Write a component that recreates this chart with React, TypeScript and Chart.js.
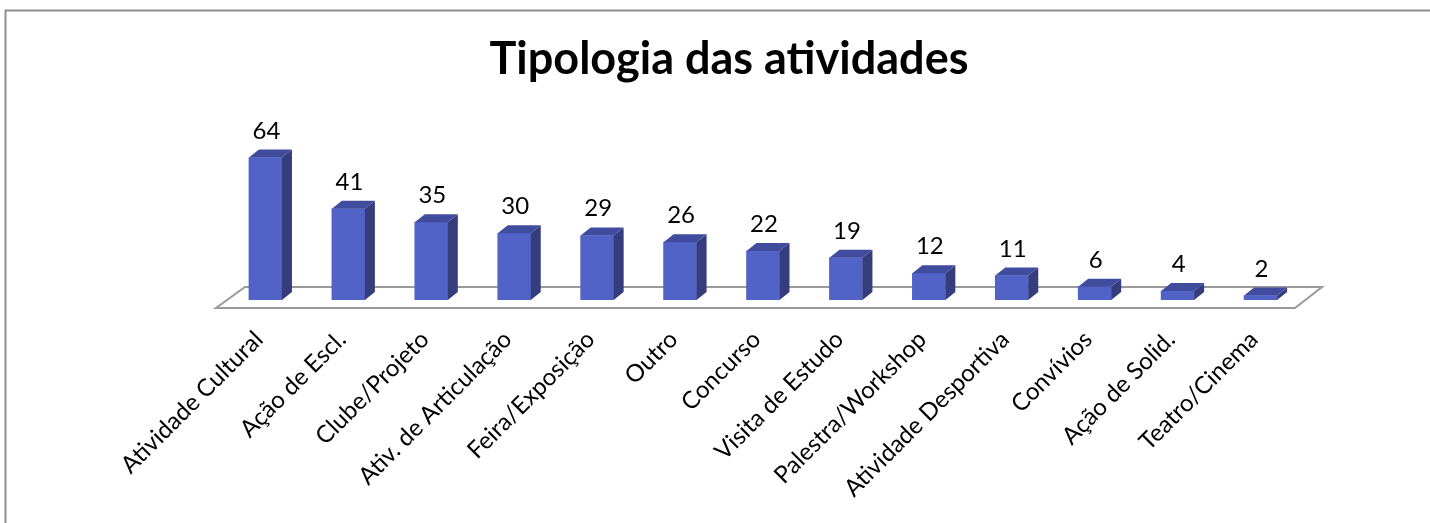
import React, { useEffect, useRef } from "react";
import { Chart, registerables } from "chart.js";

Chart.register(...registerables);

const categories = [
  "Atividade Cultural",
  "Ação de Escl.",
  "Clube/Projeto",
  "Ativ. de Articulação",
  "Feira/Exposição",
  "Outro",
  "Concurso",
  "Visita de Estudo",
  "Palestra/Workshop",
  "Atividade Desportiva",
  "Convívios",
  "Ação de Solid.",
  "Teatro/Cinema",
];
const values = [64, 41, 35, 30, 29, 26, 22, 19, 12, 11, 6, 4, 2];
const titleText = "Tipologia das atividades";

const FRONT = "#5263C8";
const SIDE = "#353D7D";
const TOP = "#414C9E";
const DX = 10;
const DY = 8;
const FONT = "Lato, 'Open Sans', sans-serif";

const excel3d = {
  id: "excel3d",
  beforeDraw(chart: any) {
    const ctx = chart.ctx as CanvasRenderingContext2D;
    const { left, right, bottom } = chart.chartArea;
    ctx.save();
    ctx.fillStyle = "#ffffff";
    ctx.fillRect(0, 0, chart.width, chart.height);
    // outer frame (top & left)
    ctx.strokeStyle = "#8f8f8f";
    ctx.lineWidth = 2;
    ctx.beginPath();
    ctx.moveTo(5.5, chart.height);
    ctx.lineTo(5.5, 10.5);
    ctx.lineTo(chart.width, 10.5);
    ctx.stroke();
    // floor
    ctx.beginPath();
    ctx.moveTo(left - 8, bottom + 8);
    ctx.lineTo(right - 7, bottom + 8);
    ctx.lineTo(right + 20, bottom - 13);
    ctx.lineTo(left + 21, bottom - 13);
    ctx.closePath();
    ctx.fillStyle = "#ffffff";
    ctx.fill();
    ctx.strokeStyle = "#9a9a9a";
    ctx.lineWidth = 2;
    ctx.stroke();
    ctx.restore();
  },
  afterDatasetsDraw(chart: any) {
    const ctx = chart.ctx as CanvasRenderingContext2D;
    const meta = chart.getDatasetMeta(0);
    const xScale = chart.scales.x;
    ctx.save();
    meta.data.forEach((bar: any, i: number) => {
      const { x, y, base, width } = bar.getProps(["x", "y", "base", "width"], true);
      const l = x - width / 2;
      const r = x + width / 2;
      // side face
      ctx.beginPath();
      ctx.moveTo(r, y);
      ctx.lineTo(r + DX, y - DY);
      ctx.lineTo(r + DX, base - DY);
      ctx.lineTo(r, base);
      ctx.closePath();
      ctx.fillStyle = SIDE;
      ctx.fill();
      // top face
      ctx.beginPath();
      ctx.moveTo(l, y);
      ctx.lineTo(l + DX, y - DY);
      ctx.lineTo(r + DX, y - DY);
      ctx.lineTo(r, y);
      ctx.closePath();
      ctx.fillStyle = TOP;
      ctx.fill();
      // value label
      ctx.fillStyle = "#000";
      ctx.font = `24px ${FONT}`;
      ctx.textAlign = "center";
      ctx.textBaseline = "alphabetic";
      ctx.fillText(String(values[i]), x + 1, y - 19);
    });
    // category labels, rotated 45°
    ctx.font = `24px ${FONT}`;
    ctx.fillStyle = "#000";
    ctx.textAlign = "right";
    ctx.textBaseline = "alphabetic";
    categories.forEach((c, i) => {
      const px = xScale.getPixelForValue(i);
      ctx.save();
      ctx.translate(px - 1, chart.chartArea.bottom + 41);
      ctx.rotate(-Math.PI / 4);
      ctx.fillText(c, 0, 0);
      ctx.restore();
    });
    ctx.restore();
  },
};

const hiddenAxis = (w: number, position: "left" | "right") => ({
  type: "linear" as const,
  position,
  display: true,
  min: 0,
  max: 80,
  ticks: { display: false },
  grid: { display: false, drawTicks: false },
  border: { display: false },
  afterFit: (s: any) => {
    s.width = w;
  },
});

export default function App() {
  const ref = useRef<HTMLCanvasElement | null>(null);
  useEffect(() => {
    if (!ref.current) return;
    const chart = new Chart(ref.current, {
      type: "bar",
      data: {
        labels: categories,
        datasets: [
          {
            data: values,
            backgroundColor: FRONT,
            borderWidth: 0,
            barThickness: 33,
            yAxisID: "y",
          },
        ],
      },
      options: {
        animation: false,
        responsive: false,
        layout: { padding: { left: 28, right: 0, top: 0, bottom: 223 } },
        plugins: {
          legend: { display: false },
          tooltip: { enabled: false },
          title: {
            display: true,
            text: titleText,
            color: "#000",
            font: { family: FONT, size: 45, weight: "bold" },
            padding: { top: 32, bottom: 36 },
          },
        },
        scales: {
          x: { display: false, offset: true, grid: { display: false } },
          y: hiddenAxis(196, "left"),
          y2: hiddenAxis(128, "right"),
        },
      },
      plugins: [excel3d],
    });
    return () => chart.destroy();
  }, []);
  return (
    <div style={{ position: "absolute", left: 0, top: 0, width: 1430, height: 523 }}>
      <canvas ref={ref} width={1430} height={523} style={{ display: "block" }} />
    </div>
  );
}
